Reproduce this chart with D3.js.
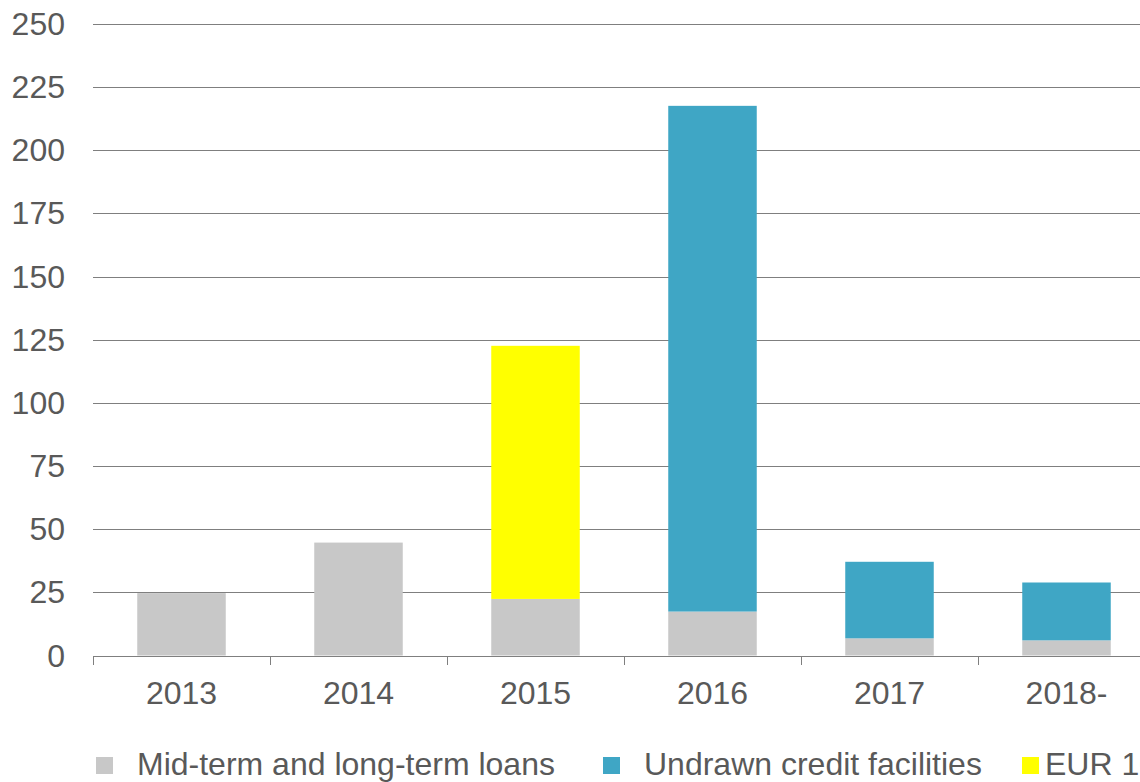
<!DOCTYPE html>
<html>
<head>
  <meta charset="utf-8">
  <title>Maturity profile</title>
  <script src="https://cdn.jsdelivr.net/npm/d3@7/dist/d3.min.js"></script>
  <style>
    body { margin: 0; background: #fff; overflow: hidden; }
    svg { display: block; }
  </style>
</head>
<body>
<script>
// data
var years = ["2013", "2014", "2015", "2016", "2017", "2018-"];
var loans = [24.7, 44.7, 22.4, 17.4, 6.8, 6.0];
var undrawn = [0, 0, 0, 200.2, 30.3, 22.9];
var bond = [0, 0, 100.2, 0, 0, 0];
var yTicks = [0, 25, 50, 75, 100, 125, 150, 175, 200, 225, 250];
var seriesNames = ["Mid-term and long-term loans", "Undrawn credit facilities", "EUR 100 million bond"];
var seriesColors = ["#c8c8c8", "#3fa6c5", "#ffff00"];

var W = 1140, H = 782;
var plotLeft = 93, plotRight = 1155, plotTop = 24, plotBottom = 655.5;
var font = "'Liberation Sans', Arial, sans-serif";
var textCol = "#595959";
var fs = 32;

var svg = d3.select("body").append("svg")
  .attr("width", W)
  .attr("height", H);

var x = d3.scaleBand()
  .domain(years)
  .range([plotLeft, plotRight])
  .paddingInner(0.5)
  .paddingOuter(0.25);

var y = d3.scaleLinear()
  .domain([0, 250])
  .range([plotBottom, plotTop]);

// gridlines
svg.append("g").selectAll("line")
  .data(yTicks.filter(function(d) { return d > 0; }))
  .enter().append("line")
  .attr("x1", plotLeft).attr("x2", W)
  .attr("y1", function(d) { return Math.round(y(d)) + 0.5; })
  .attr("y2", function(d) { return Math.round(y(d)) + 0.5; })
  .attr("stroke", "#7f7f7f")
  .attr("stroke-width", 1);

// stacked bars
var rows = years.map(function(yr, i) {
  return { year: yr, loans: loans[i], undrawn: undrawn[i], bond: bond[i] };
});
var stack = d3.stack().keys(["loans", "undrawn", "bond"]);
var layers = stack(rows);

svg.append("g").selectAll("g")
  .data(layers)
  .enter().append("g")
  .attr("fill", function(d, i) { return seriesColors[i]; })
  .selectAll("rect")
  .data(function(d) { return d.filter(function(p) { return p[1] - p[0] > 0; }); })
  .enter().append("rect")
  .attr("x", function(d) { return x(d.data.year); })
  .attr("width", x.bandwidth())
  .attr("y", function(d) { return y(d[1]); })
  .attr("height", function(d) { return y(d[0]) - y(d[1]); });

// x axis line + ticks
var step = x.step();
var tickXs = d3.range(years.length + 1).map(function(i) { return plotLeft + i * step; });
svg.append("line")
  .attr("x1", plotLeft).attr("x2", W)
  .attr("y1", Math.round(plotBottom) + 0.5).attr("y2", Math.round(plotBottom) + 0.5)
  .attr("stroke", "#7f7f7f");
svg.append("g").selectAll("line")
  .data(tickXs)
  .enter().append("line")
  .attr("x1", function(d) { return d + 0.5; })
  .attr("x2", function(d) { return d + 0.5; })
  .attr("y1", Math.round(plotBottom)).attr("y2", Math.round(plotBottom) + 9)
  .attr("stroke", "#7f7f7f");

// x labels
svg.append("g").selectAll("text")
  .data(years)
  .enter().append("text")
  .text(function(d) { return d; })
  .attr("x", function(d) { return x(d) + x.bandwidth() / 2; })
  .attr("y", 704)
  .attr("text-anchor", "middle")
  .attr("font-family", font)
  .attr("font-size", fs)
  .attr("fill", textCol);

// y labels
svg.append("g").selectAll("text")
  .data(yTicks)
  .enter().append("text")
  .text(function(d) { return d; })
  .attr("x", 65)
  .attr("y", function(d) { return y(d) + 11; })
  .attr("text-anchor", "end")
  .attr("font-family", font)
  .attr("font-size", fs)
  .attr("fill", textCol);

// legend
var legX = [96, 603, 1022];
var leg = svg.append("g").selectAll("g")
  .data(seriesNames)
  .enter().append("g")
  .attr("transform", function(d, i) { return "translate(" + legX[i] + ",757)"; });
leg.append("rect")
  .attr("width", 17).attr("height", 17)
  .attr("fill", function(d, i) { return seriesColors[i]; });
leg.append("text")
  .text(function(d) { return d; })
  .attr("x", function(d, i) { return i == 2 ? 23 : 41; })
  .attr("y", 18)
  .attr("font-family", font)
  .attr("font-size", fs)
  .attr("fill", textCol);
</script>
</body>
</html>
